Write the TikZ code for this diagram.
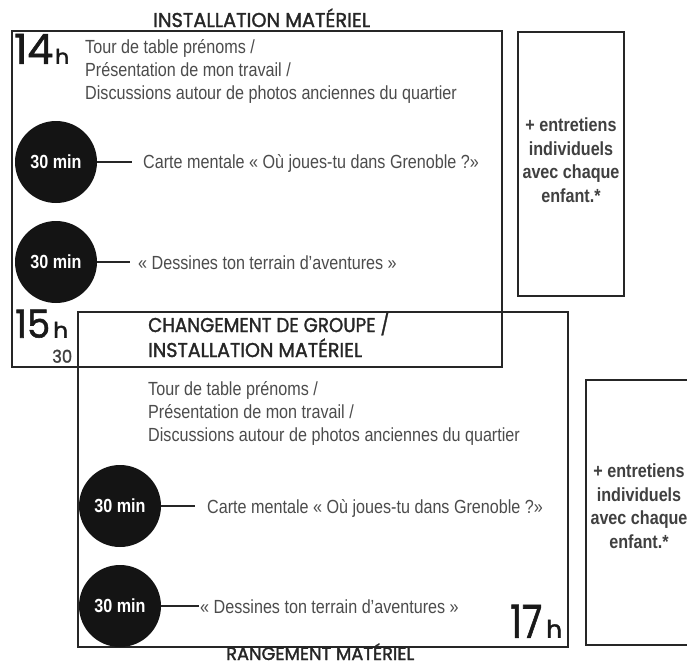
\documentclass[tikz,border=0pt]{standalone}
\usepackage{fontspec}
\usepackage{graphicx}
\newfontfamily\bodyfont{Liberation Sans}[FakeStretch=0.85]
\newfontfamily\titlefont{Poppins}[FakeBold=1.6]
\newfontfamily\numfont{Poppins}[FakeBold=1.4]
\tikzset{
  frame/.style={draw=black!85, line width=1.6pt},
  body/.style={font=\bodyfont\fontsize{19}{23}\selectfont, text=black!70, inner sep=0pt, anchor=base west},
  ttl/.style={font=\titlefont\fontsize{20}{24}\selectfont, text=black!85, inner sep=0pt, anchor=base west},
  circ/.style={circle, fill=black!92, minimum size=82pt, inner sep=0pt, text=white, font=\bodyfont\bfseries\fontsize{19}{21}\selectfont},
  conn/.style={draw=black!85, line width=1.6pt},
  extra/.style={font=\bodyfont\bfseries\fontsize{19}{23.5}\selectfont, text=black!75, align=center, inner sep=0pt},
  num/.style={inner sep=0pt, anchor=south west, text=black!90},
}
\newcommand{\hfit}[2]{\resizebox{#1pt}{\height}{#2}}
\begin{document}
\begin{tikzpicture}[x=1pt,y=-1pt]
\clip (0,0) rectangle (687,667);
\fill[white] (0,0) rectangle (687,667);
% frames
\draw[frame] (12,31) rectangle (502,367);
\draw[frame] (518,32) rectangle (624,296);
\draw[frame] (78,312) rectangle (568,647);
\draw[frame] (586,380) rectangle (695,645);
% titles
\node[ttl] (t1) at (153,27) {\hfit{217}{INSTALLATION MATÉRIEL}};
\node[ttl] (t2) at (148,332) {\hfit{241}{CHANGEMENT DE GROUPE /}};
\node[ttl] (t3) at (148,357) {\hfit{214}{INSTALLATION MATÉRIEL}};
\node[ttl, font=\titlefont\fontsize{18}{20}\selectfont] (t4) at (226,660) {\hfit{188}{RANGEMENT MATÉRIEL}};
% hours
\node[num] (h14) at (14,64) {\resizebox{39pt}{30pt}{\numfont 14}};
\node[num] (h14h) at (55,64) {\resizebox{14pt}{15pt}{\numfont h}};
\node[num] (h15) at (15,338) {\resizebox{35pt}{28pt}{\numfont 15}};
\node[num] (h15h) at (53,338) {\resizebox{15pt}{16pt}{\numfont h}};
\node[num, text=black!75] (h1530) at (52,363) {\resizebox{20pt}{13pt}{\numfont 30}};
\node[num] (h17) at (510,638) {\resizebox{32pt}{33pt}{\numfont 17}};
\node[num] (h17h) at (546,638) {\resizebox{16pt}{18pt}{\numfont h}};
% first group
\node[body] (a1) at (85,53) {Tour de table prénoms /};
\node[body] (a2) at (85,76) {Présentation de mon travail /};
\node[body] (a3) at (85,99) {Discussions autour de photos anciennes du quartier};
\node[circ] (c1) at (56,162) {30 min};
\node[circ] (c2) at (56,262) {30 min};
\draw[conn] (c1.east) -- ++(35,0) coordinate (e1);
\node[body] (a4) at (143,168) {Carte mentale « Où joues-tu dans Grenoble ?»};
\draw[conn] (c2.east) -- ++(33,0) coordinate (e2);
\node[body] (a5) at (138,269) {« Dessines ton terrain d’aventures »};
% second group
\node[body] (b1) at (148,395) {Tour de table prénoms /};
\node[body] (b2) at (148,418) {Présentation de mon travail /};
\node[body] (b3) at (148,441) {Discussions autour de photos anciennes du quartier};
\node[circ] (c3) at (120,506) {30 min};
\node[circ] (c4) at (120,606) {30 min};
\draw[conn] (c3.east) -- ++(34,0) coordinate (e3);
\node[body] (b4) at (207,513) {Carte mentale « Où joues-tu dans Grenoble ?»};
\draw[conn] (c4.east) -- ++(38,0) coordinate (e4);
\node[body] (b5) at (200,613) {« Dessines ton terrain d’aventures »};
% side notes
\node[extra] (x1) at (571,160) {+ entretiens\\individuels\\avec chaque\\enfant.*};
\node[extra] (x2) at (639,506) {+ entretiens\\individuels\\avec chaque\\enfant.*};
\end{tikzpicture}
\end{document}
